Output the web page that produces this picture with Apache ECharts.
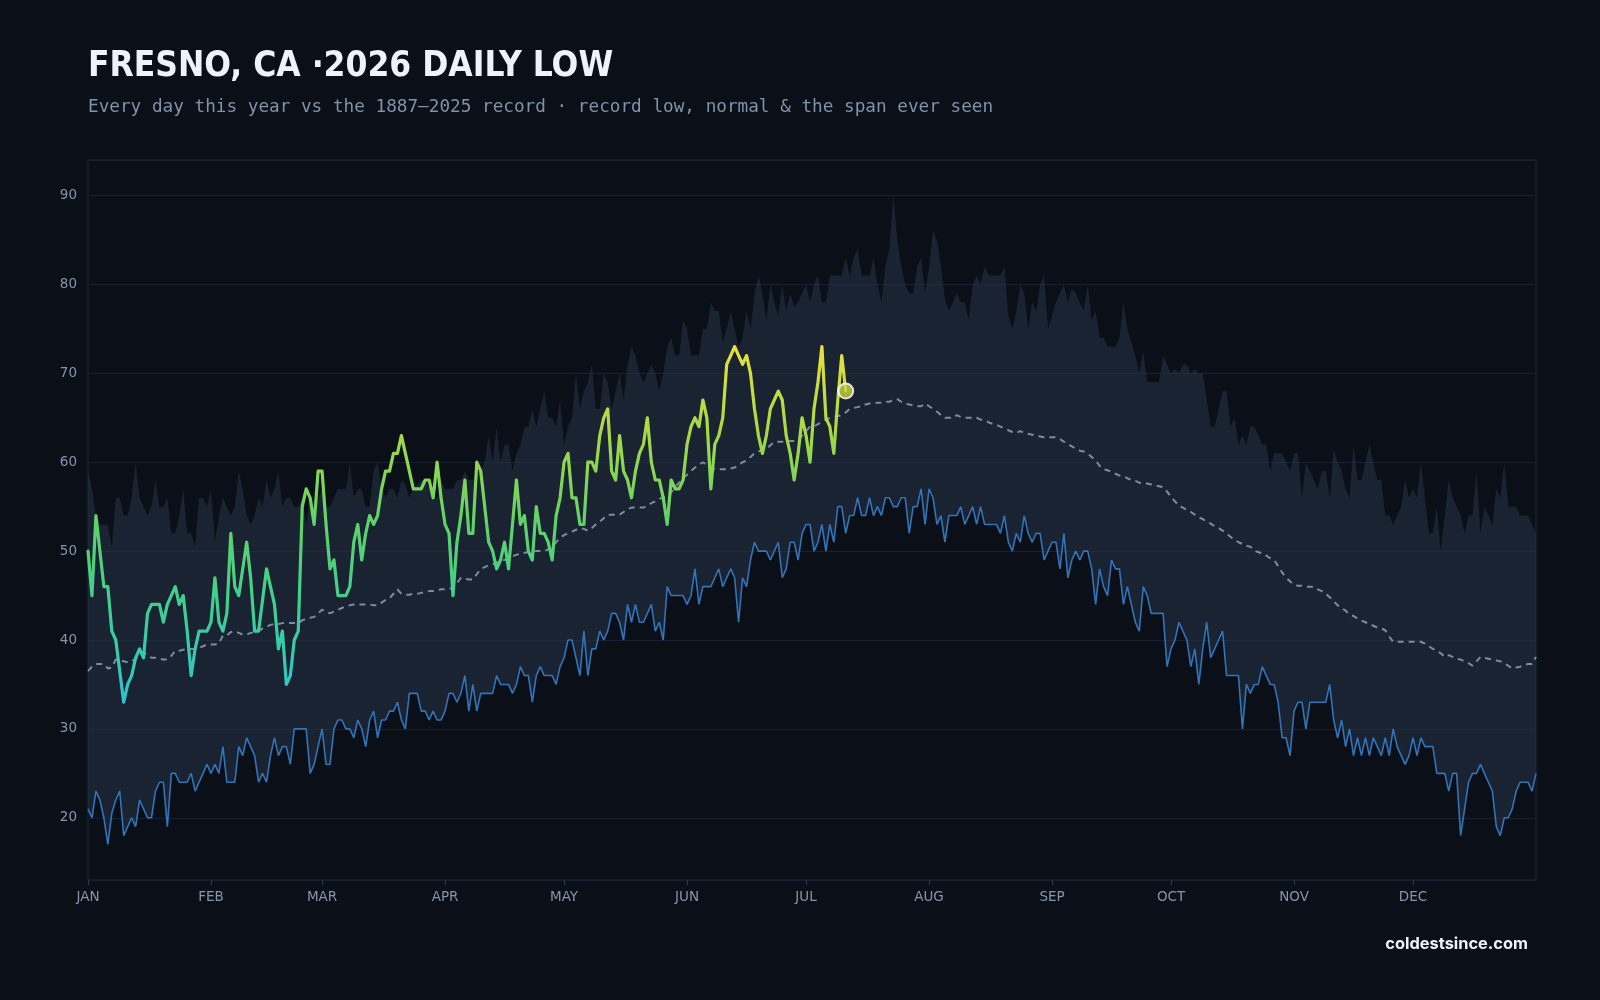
<!DOCTYPE html>
<html><head><meta charset="utf-8">
<script src="https://cdn.jsdelivr.net/npm/echarts@6/dist/echarts.min.js"></script>
<style>html,body{margin:0;padding:0;background:#0b0f17;}#c{width:1600px;height:1000px;}</style>
</head><body><div id="c"></div>
<script>
const monthLabels = ['JAN','FEB','MAR','APR','MAY','JUN','JUL','AUG','SEP','OCT','NOV','DEC'];
const monthStartDays = [0,31,59,90,120,151,181,212,243,273,304,334];
const yTicks = [20,30,40,50,60,70,80,90];

const recordHigh = [
59,57,54,53,53,53,50.5,56,56,54,
54,56,60,56,55,54,55,58,55,55,
56,52,52,54,57,52,52,50.5,56,56,
55,57,51,54,56,55,54,55,59,57,
54,53,54,56,55,58,56,57,59,55,
56,56,55,55,56,53,56,55,56,57,
55,55,56,57,57,57,60,56,57,57,
55,55,59,60,57,56,57,57,56,58,
57.5,56,57,57.5,58,58,57,56,56,58,
57,57,57,58,58,59,58,58,59,59,
60,63,60,64,60,62,62,59,61,62,
64,64,66,64,66,68,65,65,64,67,
62,64,65,70,66,68,69,71,66,66,
70,69,66,68,70,67,71,73,72,70,
69,70,71,70,68,70,73,74,72,72,
76,75,72,72,72,75,75,78,77,77,
73.5,75,77,75,73,74,77,75,79,81,
79,76,80,78,76.5,80,77,79,77.5,78,
79,80,78,80,81,78,78,81,81,81,
81,83,81,83,84,81,81,81,83,80,
78,82,84,90,85,82,80,79,79,82,
83,79,82,86,85,82,78.5,77,78,79,
78,78,76,80,81,80,82,81,81,81,
81,82,76.5,75,77,80,79,75,78,77,
80,81,75,76.5,78,79,80,78,79.5,79,
78,77,80,76,77,74,74,73,73,73,
74,78,75,73.5,72,70,72.5,69,69,69,
69,72,71,70,70.5,70,71,71,70,70.5,
70,70,67,64,64,66,68,68,64,65,
62,63,62,64,64,63,62,62,59,61,
61,61,60,59,61,61,56,60,59,58,
57,59,59,56,61.5,60,59,57,56,62,
58,58,60,62,60,58,58,54,54,53,
54,55,58,56,57,56,60,56,52,52,
55,50,54,58,56,55,54,52,54,54,
59,52,55,54,53,57,56,60,55,55,
55,54,54,54,53,52];

const recordLow = [
21,20,23,22,20,17,20.5,22,23,18,
19,20,19,22,21,20,20,23,24,24,
19,25,25,24,24,24,25,23,24,25,
26,25,26,25,28,24,24,24,28,27,
29,28,27,24,25,24,27,29,27,28,
28,26,30,30,30,30,25,26,28,30,
26,26,30,31,31,30,30,29,31,30,
28,31,32,29,31,31,32,32,33,31,
30,34,34,34,32,32,31,32,31,31,
32,34,34,33,34,36,32,35,32,34,
34,34,34,36,35,35,35,34,35,37,
36,36,33,36,37,36,36,36,35,37,
38,40,40,38,36,41,36,39,39,41,
40,41,43,43,42,40,44,42,44,42,
42,43,44,41,42,40,46,45,45,45,
45,44,45,48,44,46,46,46,47,48,
46,47,48,47,42,47,46,49,51,50,
50,50,49,50,51,47,48,51,51,49,
52,53,53,50,51,53,50,53,51,55,
55,52,54,54,56,54,54,56,54,55,
54,56,56,55,55,56,56,52,55,55,
57,53,57,56,53,54,51,54,54,54,
55,53,54,55,53,55,53,53,53,53,
52,54,51,50,52,51,54,52,51,52,
52,49,50,51,51,48,52,47,49,50,
49,50,50,48,44,48,46,45,49,48,
48,44,46,44,42,41,46,45,43,43,
43,43,37,39,40,42,41,40,37,39,
35,39,42,38,39,40,41,36,36,36,
36,30,35,34,35,35,37,36,35,35,
33,29,29,27,32,33,33,30,33,33,
33,33,33,35,31,29,31,28,30,27,
29,27,29,27,29,28,27,29,27,30,
28,27,26,27,29,27,29,28,28,28,
25,25,25,23,25,25,18,21,24,25,
25,26,25,24,23,19,18,20,20,21,
23,24,24,24,23,25];

const normal = [
36.5,37.0,37.3,37.3,37.3,36.8,36.9,37.8,37.8,37.6,
37.5,37.6,37.9,38.2,38.6,38.3,38.0,38.0,37.9,37.8,
37.8,38.2,38.8,38.8,38.9,39.0,39.0,39.0,39.1,39.3,
39.5,39.5,39.5,39.6,40.5,40.5,40.9,41.0,40.8,40.6,
40.6,40.8,40.9,41.0,41.3,41.5,41.7,41.8,41.8,41.9,
41.9,41.9,41.9,41.9,42.2,42.4,42.5,42.6,43.0,43.4,
43.2,43.0,43.2,43.4,43.6,43.8,43.9,44.0,44.0,44.0,
44.0,44.0,43.9,43.9,44.2,44.5,44.7,45.2,45.7,45.2,
45.1,45.1,45.2,45.2,45.3,45.4,45.5,45.5,45.6,45.7,
45.7,45.8,45.8,46.4,47.0,46.9,46.8,46.8,47.4,48.0,
48.2,48.4,48.5,48.7,48.9,49.0,49.2,49.4,49.6,49.7,
49.8,49.9,50.0,50.0,50.0,50.0,50.2,50.5,51.0,51.5,
51.8,52.0,52.2,52.4,52.6,52.5,52.3,52.6,53.0,53.3,
53.7,54.1,54.1,54.1,54.1,54.4,54.7,54.9,54.9,54.9,
54.9,55.1,55.4,55.6,55.9,56.0,56.1,56.6,57.2,57.7,
58.2,58.6,59.0,59.4,59.7,60.0,59.7,59.4,59.2,59.2,
59.2,59.2,59.3,59.4,59.7,60.0,60.2,60.6,61.0,61.2,
61.4,61.5,61.9,62.3,62.3,62.3,62.3,62.4,62.4,62.5,
63.0,63.5,64.0,64.0,64.3,64.5,64.8,65.0,65.1,65.2,
65.3,65.6,66.0,66.1,66.2,66.3,66.5,66.6,66.6,66.7,
66.7,66.8,66.8,67.0,67.1,66.8,66.6,66.5,66.4,66.3,
66.3,66.6,66.3,66.0,65.7,65.3,65.0,65.0,65.0,65.3,
65.1,65.0,65.0,65.0,65.0,64.8,64.7,64.5,64.3,64.2,
64.0,63.8,63.6,63.4,63.3,63.5,63.3,63.2,63.1,63.0,
62.9,62.8,62.8,62.8,62.8,62.6,62.3,62.0,61.8,61.5,
61.3,61.2,61.0,60.6,60.2,59.6,59.2,59.1,58.9,58.7,
58.5,58.4,58.2,58.0,57.9,57.7,57.6,57.6,57.5,57.4,
57.3,57.2,56.7,56.1,55.6,55.1,54.9,54.6,54.4,54.1,
53.8,53.6,53.3,53.1,52.8,52.6,52.3,52.0,51.6,51.3,
51.0,50.8,50.6,50.5,50.0,49.9,49.7,49.5,49.2,49.0,
48.3,47.6,47.0,46.6,46.2,46.1,46.1,46.0,46.0,46.0,
45.7,45.5,45.2,44.8,44.4,43.9,43.6,43.3,42.9,42.7,
42.4,42.2,42.0,41.8,41.6,41.4,41.3,41.1,40.4,39.8,
39.8,39.8,39.8,39.8,39.8,39.8,39.8,39.6,39.3,39.0,
38.8,38.5,38.1,38.3,38.1,37.9,37.8,37.6,37.4,37.1,
37.6,38.1,38.0,37.9,37.8,37.7,37.6,37.4,37.1,36.8,
36.9,37.0,37.2,37.3,37.3,38.1];

const actual2026 = [
50,45,54,50,46,46,41,40,36.5,33,
35,36,38,39,38,43,44,44,44,42,
44,45,46,44,45,41,36,39,41,41,
41,42,47,42,41,43,52,46,45,48,
51,47,41,41,44.5,48,46,44,39,41,
35,36,40,41,55,57,56,53,59,59,
53,48,49,45,45,45,46,51,53,49,
52,54,53,54,57,59,59,61,61,63,
61,59,57,57,57,58,58,56,60,56,
53,52,45,51,54,58,52,52,60,59,
55,51,50,48,49,51,48,53,58,53,
54,50,49,55,52,52,51,49,54,56,
60,61,56,56,53,53,60,60,59,63,
65,66,59,58,63,59,58,56,59,61,
62,65,60,58,58,56,53,58,57,57,
58,62,64,65,64,67,65,57,62,63,
65,71,72,73,72,71,72,70,66,63,
61,63,66,67,68,67,63,61,58,61,
65,63,60,66,69,73,65,64,61,67,
72,68];

const days = recordHigh.map((_, i) => i);
const span = recordHigh.map((h, i) => h - recordLow[i]);
const lastIdx = actual2026.length - 1;
const isMonthStart = (i) => monthStartDays.indexOf(i) >= 0;

const chart = echarts.init(document.getElementById('c'), null, {renderer: 'canvas'});
const axisColor = '#8496ad';
chart.setOption({
  backgroundColor: '#0b0f17',
  animation: false,
  graphic: [
    {type: 'text', left: 88, top: 49, style: {text: 'FRESNO, CA ·2026 DAILY LOW', fill: '#eef3fb', font: 'bold 35px "Liberation Sans Narrow", "DejaVu Sans Condensed", Roboto, sans-serif'}},
    {type: 'text', left: 88, top: 98, style: {text: 'Every day this year vs the 1887–2025 record · record low, normal & the span ever seen', fill: '#8193a9', font: '17.7px "DejaVu Sans Mono", monospace'}},
    {type: 'text', right: 72, top: 936, style: {text: 'coldestsince.com', fill: '#eef3fb', font: 'bold 16.4px Inter, "Noto Sans", sans-serif'}}
  ],
  grid: {left: 88, right: 64, top: 160, bottom: 120, show: true, borderColor: '#1d2939', borderWidth: 1, backgroundColor: 'transparent'},
  visualMap: {show: false, type: 'continuous', seriesIndex: 4, dimension: 1, min: 33, max: 73,
    inRange: {color: ['#30c3d0', '#3ccf94', '#5fd16a', '#a5d944', '#e8e03c']}},
  xAxis: {
    type: 'category', data: days, boundaryGap: false,
    axisLine: {show: false},
    axisTick: {show: true, interval: (i) => isMonthStart(i), length: 5, lineStyle: {color: '#2a3a4f'}},
    axisLabel: {interval: (i) => isMonthStart(i), formatter: (v) => monthLabels[monthStartDays.indexOf(+v)],
      color: axisColor, fontSize: 13.5, fontFamily: '"DejaVu Sans", sans-serif', margin: 10},
    splitLine: {show: false}
  },
  yAxis: {
    type: 'value', min: 13, max: 94, splitNumber: 8, minInterval: 10, maxInterval: 10,
    axisLine: {show: false}, axisTick: {show: false},
    axisLabel: {customValues: yTicks, color: axisColor, fontSize: 13.5, fontFamily: '"DejaVu Sans", sans-serif', margin: 11},
    splitLine: {show: true, lineStyle: {color: '#172130', width: 1}}
  },
  series: [
    {name: 'base', type: 'line', data: recordLow, stack: 'band', symbol: 'none', silent: true,
      lineStyle: {opacity: 0}, z: 1},
    {name: 'Span ever seen', type: 'line', data: span, stack: 'band', symbol: 'none', silent: true,
      lineStyle: {opacity: 0}, areaStyle: {color: 'rgba(40,56,78,0.5)', opacity: 1}, z: 1},
    {name: 'Record low', type: 'line', data: recordLow, symbol: 'none', z: 3,
      lineStyle: {color: '#3373b8', width: 1.6}},
    {name: 'Normal', type: 'line', data: normal, symbol: 'none', z: 4, smooth: false,
      lineStyle: {color: '#7b8da4', width: 2, type: [6, 5]}},
    {name: '2026', type: 'line', data: actual2026, symbol: 'none', z: 5,
      lineStyle: {width: 3.2, cap: 'round', join: 'round'}},
    {name: 'today', type: 'scatter', data: [[lastIdx, actual2026[lastIdx]]], symbol: 'circle', symbolSize: 15, z: 6,
      itemStyle: {color: '#c8d640', borderColor: '#ffffff', borderWidth: 2}}
  ]
});
</script>
</body></html>
